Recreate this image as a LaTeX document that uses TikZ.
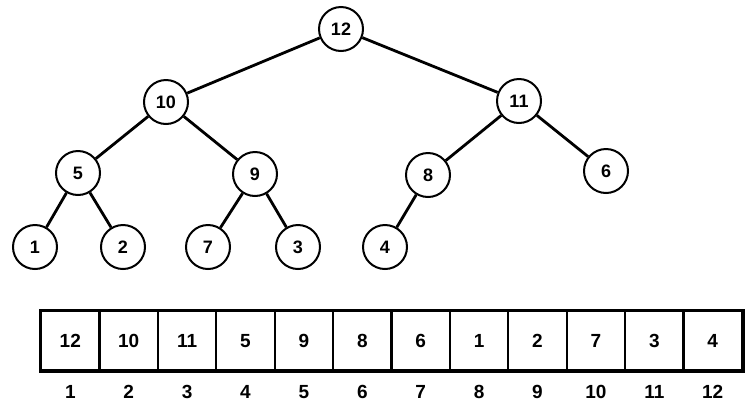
\documentclass[tikz,border=0pt]{standalone}
\usepackage{fontspec}
\setmainfont{Liberation Sans}
\usetikzlibrary{fit,backgrounds}
\begin{document}
\begin{tikzpicture}[x=1pt,y=-1pt,
  hnode/.style={circle,draw,line width=2pt,minimum size=44pt,inner sep=0pt,fill=white,font=\fontsize{18}{18}\selectfont\bfseries},
  edge/.style={line width=2.8pt},
  cell/.style={draw,line width=2.2pt,minimum width=58.4pt,minimum height=59pt,inner sep=0pt,anchor=north west,font=\fontsize{19}{19}\selectfont\bfseries},
  idx/.style={font=\fontsize{19}{19}\selectfont\bfseries}]
\useasboundingbox (0,0) rectangle (752,416);
\node[hnode] (n12) at (341,29) {12};
\node[hnode] (n10) at (166,102) {10};
\node[hnode] (n11) at (519,101) {11};
\node[hnode] (n5) at (78,173) {5};
\node[hnode] (n9) at (255,174) {9};
\node[hnode] (n8) at (428,175) {8};
\node[hnode] (n6) at (606,171) {6};
\node[hnode] (n1) at (35,247) {1};
\node[hnode] (n2) at (123,247) {2};
\node[hnode] (n7) at (208,247) {7};
\node[hnode] (n3) at (298,247) {3};
\node[hnode] (n4) at (385,247) {4};
\begin{scope}[on background layer]
\foreach \a/\b in {n12/n10,n12/n11,n10/n5,n10/n9,n11/n8,n11/n6,n5/n1,n5/n2,n9/n7,n9/n3,n8/n4}
  \draw[edge] (\a) -- (\b);
\end{scope}
\foreach \v [count=\i] in {12,10,11,5,9,8,6,1,2,7,3,4} {
  \node[cell] (c\i) at ({40+(\i-1)*58.4},310) {\v};
  \node[idx] (i\i) at (c\i.south) [yshift=-21pt] {\i};
}
\node[draw,line width=3pt,fit=(c1)(c12),inner sep=0pt] (arr) {};
\end{tikzpicture}
\end{document}
